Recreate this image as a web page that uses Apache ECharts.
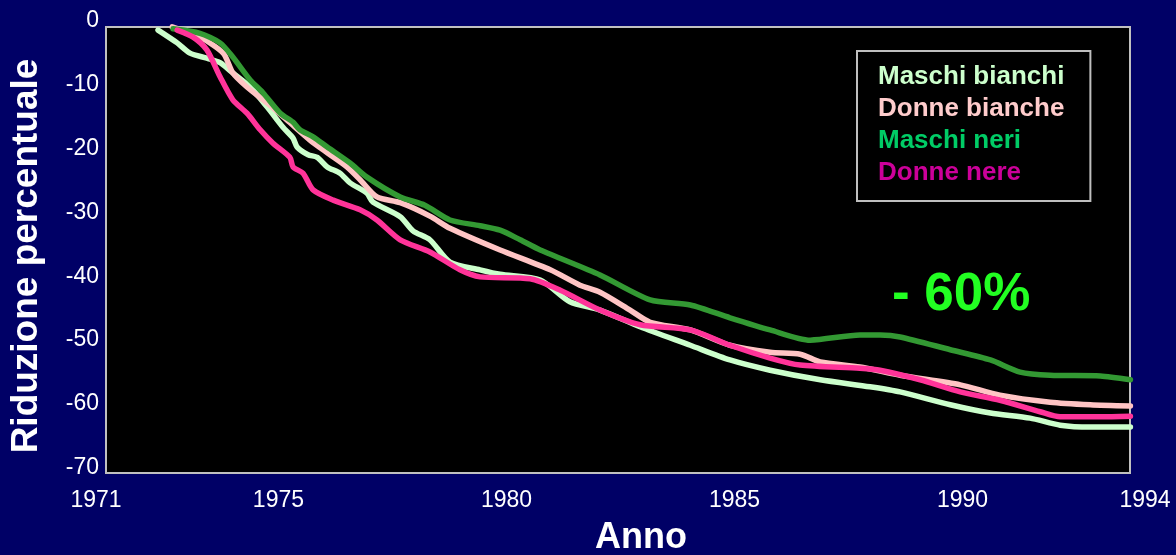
<!DOCTYPE html>
<html>
<head>
<meta charset="utf-8">
<title>Riduzione percentuale</title>
<script src="https://cdn.jsdelivr.net/npm/echarts@6/dist/echarts.min.js"></script>
<style>
  html, body { margin: 0; padding: 0; background: #000066; }
  #chart { width: 1176px; height: 555px; }
</style>
</head>
<body>
<div id="chart"></div>
<script>
// Anni mostrati sull'asse orizzontale
const yearTicks = [1971, 1975, 1980, 1985, 1990, 1994];

// Serie: [anno, riduzione percentuale]
const maschiBianchi = [
  [1972.36, -1.5], [1972.78, -3.5], [1973.06, -5.1], [1973.43, -5.9], [1973.72, -6.6],
  [1974.00, -8.2], [1974.38, -10.4], [1974.75, -13.5], [1975.10, -16.7], [1975.32, -18.4],
  [1975.41, -19.8], [1975.65, -21.0], [1975.85, -21.4], [1976.07, -22.9], [1976.35, -23.9],
  [1976.57, -25.4], [1976.94, -27.0], [1977.07, -28.4], [1977.67, -30.7], [1977.95, -32.9],
  [1978.32, -34.3], [1978.76, -37.8], [1979.42, -39.0], [1979.86, -39.7], [1980.74, -40.6],
  [1981.39, -44.0], [1982.05, -45.3], [1982.93, -47.9], [1984.03, -50.8], [1984.90, -53.1],
  [1985.78, -54.7], [1986.88, -56.2], [1987.97, -57.3], [1988.63, -58.1], [1989.73, -60.1],
  [1990.61, -61.4], [1991.48, -62.2], [1992.14, -63.3], [1992.80, -63.6], [1993.68, -63.6]
];
const donneBianche = [
  [1972.67, -1.0], [1973.28, -2.6], [1973.79, -5.1], [1974.00, -8.2], [1974.31, -10.4],
  [1974.75, -12.9], [1975.19, -15.6], [1975.69, -18.7], [1976.07, -20.7], [1976.50, -22.9],
  [1976.79, -24.9], [1977.16, -27.6], [1977.67, -28.5], [1978.32, -30.6], [1978.76, -32.5],
  [1979.86, -35.9], [1980.96, -39.0], [1981.61, -41.4], [1982.05, -42.5], [1982.71, -45.3],
  [1983.15, -47.2], [1984.03, -48.4], [1984.90, -50.8], [1985.78, -51.9], [1986.44, -52.2],
  [1986.88, -53.4], [1987.75, -54.2], [1988.63, -55.5], [1989.95, -57.0], [1990.82, -58.6],
  [1991.92, -59.7], [1992.80, -60.1], [1993.68, -60.3]
];
const maschiNeri = [
  [1972.69, -1.3], [1973.28, -2.0], [1973.72, -3.5], [1974.00, -5.7], [1974.38, -9.3],
  [1974.66, -11.3], [1975.04, -14.5], [1975.32, -15.9], [1975.47, -17.1], [1975.76, -18.2],
  [1976.07, -19.8], [1976.57, -22.3], [1976.94, -24.5], [1977.67, -27.6], [1978.21, -28.9],
  [1978.76, -31.2], [1979.42, -32.1], [1979.86, -32.8], [1980.30, -34.3], [1980.74, -35.9],
  [1982.05, -39.8], [1983.15, -43.7], [1984.03, -44.5], [1984.90, -46.5], [1985.78, -48.4],
  [1986.66, -50.0], [1987.75, -49.2], [1988.19, -49.2], [1988.63, -49.5], [1989.73, -51.5],
  [1990.61, -53.1], [1991.26, -55.0], [1991.92, -55.5], [1993.02, -55.6], [1993.68, -56.2]
];
const donneNere = [
  [1972.78, -1.5], [1973.13, -2.6], [1973.43, -4.6], [1973.72, -8.8], [1974.00, -12.4],
  [1974.31, -14.5], [1974.60, -17.1], [1974.88, -19.2], [1975.25, -21.4], [1975.32, -22.9],
  [1975.54, -23.9], [1975.76, -26.5], [1976.20, -28.1], [1976.79, -29.6], [1977.16, -31.2],
  [1977.67, -34.3], [1978.32, -36.2], [1978.98, -39.0], [1979.42, -40.1], [1980.52, -40.4],
  [1981.18, -42.2], [1982.05, -45.3], [1982.93, -47.6], [1984.03, -48.4], [1984.90, -50.8],
  [1985.78, -52.8], [1986.44, -53.9], [1987.75, -54.4], [1988.19, -54.7], [1989.07, -56.2],
  [1989.95, -58.1], [1990.82, -59.4], [1991.70, -61.2], [1992.14, -62.0], [1993.02, -62.0],
  [1993.68, -61.9]
];

const seriesNames = ['Maschi bianchi', 'Donne bianche', 'Maschi neri', 'Donne nere'];
const seriesData = [maschiBianchi, donneBianche, maschiNeri, donneNere];
const lineColors = ['#ccffcc', '#ffc4c4', '#339933', '#ff3399'];
const legendColors = ['#ccffcc', '#ffcccc', '#00cc66', '#cc0099'];

const FONT = 'Arial, "Liberation Sans", Helvetica, sans-serif';
const chart = echarts.init(document.getElementById('chart'), null, { renderer: 'canvas' });

chart.setOption({
  animation: false,
  backgroundColor: '#000066',
  grid: { left: 96, right: 31, top: 20.5, bottom: 87 },
  xAxis: {
    type: 'value',
    min: 1971,
    max: 1994,
    axisLine: { show: false },
    axisTick: { show: false },
    splitLine: { show: false },
    axisLabel: {
      customValues: yearTicks,
      formatter: (v) => String(v),
      color: '#ffffff',
      fontFamily: FONT,
      fontSize: 23,
      margin: 21
    }
  },
  yAxis: {
    type: 'value',
    min: -70,
    max: 0,
    interval: 10,
    axisLine: { show: false },
    axisTick: { show: false },
    splitLine: { show: false },
    axisLabel: {
      formatter: (v) => String(v),
      color: '#ffffff',
      fontFamily: FONT,
      fontSize: 23,
      margin: -3
    }
  },
  legend: {
    orient: 'vertical',
    left: 857,
    top: 51,
    icon: 'none',
    itemWidth: 0,
    itemHeight: 10,
    itemGap: 0,
    padding: [10, 26, 12, 16],
    backgroundColor: '#000000',
    borderColor: '#bfbfbf',
    borderWidth: 2,
    selectedMode: false,
    textStyle: { fontFamily: FONT, fontSize: 26, fontWeight: 'bold', lineHeight: 32 },
    data: seriesNames.map((n, i) => ({ name: n, textStyle: { color: legendColors[i] } }))
  },
  graphic: [
    {
      type: 'rect',
      z: -10,
      silent: true,
      shape: { x: 106, y: 27, width: 1024, height: 446 },
      style: { fill: '#000000', stroke: '#c0c0c0', lineWidth: 2 }
    },
    {
      type: 'text',
      z: 100,
      x: 27,
      y: 256,
      rotation: Math.PI / 2,
      style: {
        text: 'Riduzione percentuale',
        fill: '#ffffff',
        font: 'bold 37px ' + FONT,
        textAlign: 'center',
        textVerticalAlign: 'middle'
      }
    },
    {
      type: 'text',
      z: 100,
      x: 641,
      y: 538,
      style: {
        text: 'Anno',
        fill: '#ffffff',
        font: 'bold 36px ' + FONT,
        textAlign: 'center',
        textVerticalAlign: 'middle'
      }
    },
    {
      type: 'text',
      z: 100,
      x: 892,
      y: 295,
      style: {
        text: '- 60%',
        fill: '#22ff22',
        font: 'bold 53px ' + FONT,
        textAlign: 'left',
        textVerticalAlign: 'middle'
      }
    }
  ],
  series: seriesData.map((d, i) => ({
    name: seriesNames[i],
    type: 'line',
    data: d,
    showSymbol: false,
    smooth: 0.25,
    lineStyle: { color: lineColors[i], width: 5.5, cap: 'round', join: 'round' },
    itemStyle: { color: lineColors[i] }
  }))
});
</script>
</body>
</html>
